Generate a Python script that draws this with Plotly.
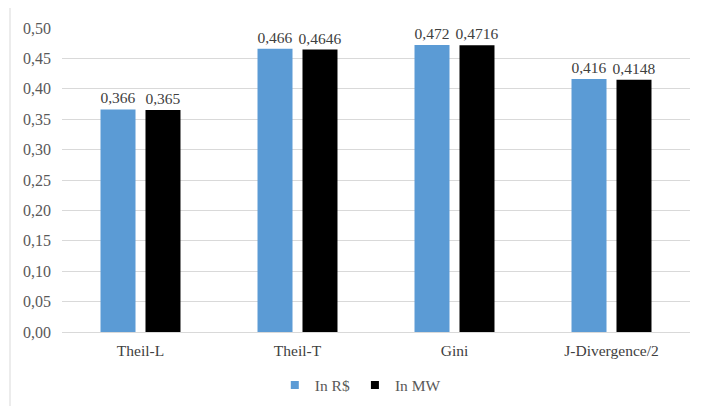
import plotly.graph_objects as go

categories = ["Theil-L", "Theil-T", "Gini", "J-Divergence/2"]
rs_values = [0.366, 0.466, 0.472, 0.416]
mw_values = [0.365, 0.4646, 0.4716, 0.4148]
rs_labels = ["0,366", "0,466", "0,472", "0,416"]
mw_labels = ["0,365", "0,4646", "0,4716", "0,4148"]
tick_vals = [0, 0.05, 0.10, 0.15, 0.20, 0.25, 0.30, 0.35, 0.40, 0.45, 0.50]
series_names = ["In R$", "In MW"]
series_colors = ["#5B9BD5", "#000000"]

font_family = "Liberation Serif, Times New Roman, serif"

fig = go.Figure()
for name, color, vals, labels in zip(series_names, series_colors,
                                     [rs_values, mw_values], [rs_labels, mw_labels]):
    fig.add_trace(go.Bar(
        x=categories, y=vals, name=name, showlegend=False,
        marker=dict(color=color, line=dict(width=0)),
        text=labels, textposition="outside", cliponaxis=False, constraintext="none",
        textfont=dict(family=font_family, size=15.5, color="#404040"),
    ))
# legend entries with small square swatches
for name, color in zip(series_names, series_colors):
    fig.add_trace(go.Scatter(
        x=[None], y=[None], mode="markers", name=name,
        marker=dict(symbol="square", size=8, color=color),
    ))

fig.update_layout(
    width=693, height=398,
    margin=dict(l=54, r=11, t=20, b=74, autoexpand=False),
    paper_bgcolor="white", plot_bgcolor="white",
    barmode="group", bargap=0.427, bargroupgap=0.222,
    separators=",.",
    font=dict(family=font_family, size=15.5, color="#595959"),
    legend=dict(orientation="h", x=0.475, xanchor="center", y=-0.12, yanchor="top",
                bgcolor="rgba(0,0,0,0)",
                font=dict(family=font_family, size=15.5, color="#595959"),
                itemwidth=30, traceorder="normal", tracegroupgap=0),
    shapes=[dict(type="rect", xref="paper", yref="paper",
                 x0=-0.0828, x1=1.06, y0=-0.4, y1=1.069,
                 line=dict(color="#D9D9D9", width=1), fillcolor="rgba(0,0,0,0)")],
)
fig.update_yaxes(range=[0, 0.5], tickvals=tick_vals, tickformat=".2f",
                 showgrid=True, gridcolor="#D9D9D9", gridwidth=1, automargin=False,
                 zeroline=False, showline=False, ticks="", ticklabelstandoff=10,
                 tickfont=dict(family=font_family, size=16, color="#595959"))
fig.update_xaxes(showline=True, linecolor="#D9D9D9", linewidth=1, ticks="", automargin=False,
                 ticklabelstandoff=4,
                 tickfont=dict(family=font_family, size=15.5, color="#404040"))

fig.write_html("out.html")
